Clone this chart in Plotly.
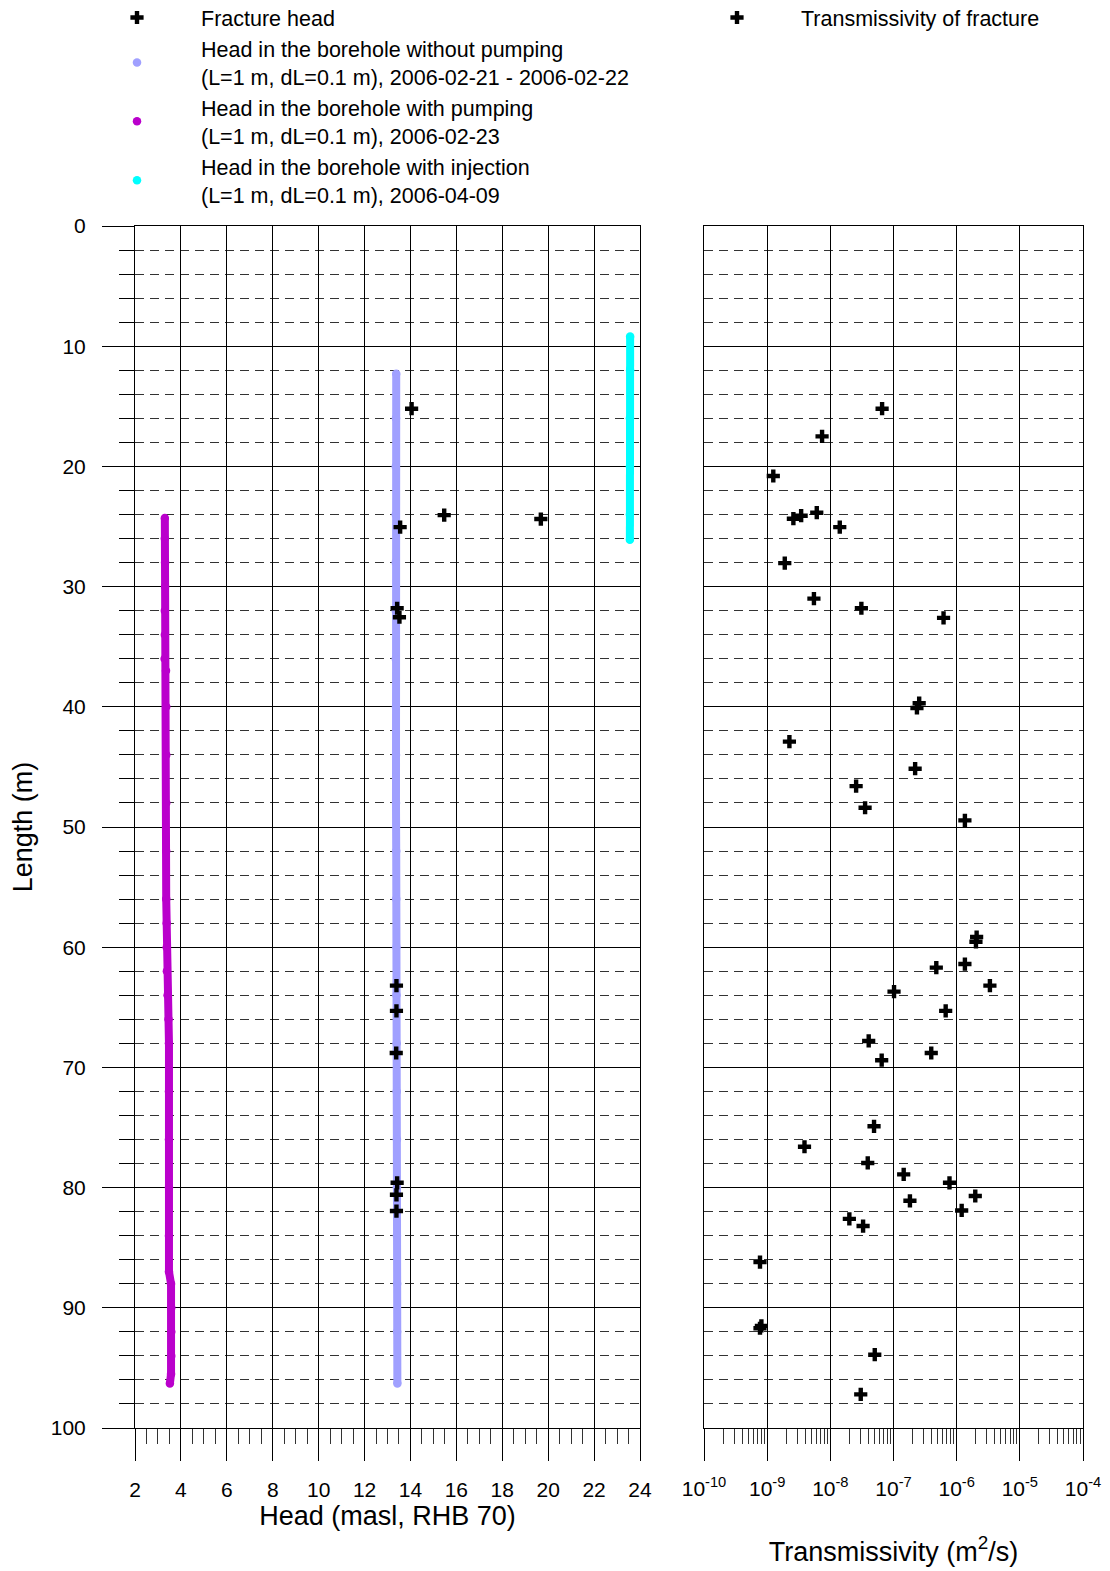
import plotly.graph_objects as go

# ---------------- data ----------------
# Head in the borehole without pumping (lavender)
nopump_depth = [12.3, 16, 20, 24, 28, 32, 36, 40, 44, 48, 52, 56, 60, 64, 68, 72, 76, 80, 84, 88, 92, 96.3]
nopump_head = [13.38, 13.37, 13.36, 13.36, 13.36, 13.36, 13.36, 13.37, 13.37, 13.37, 13.38, 13.38,
               13.39, 13.39, 13.40, 13.40, 13.41, 13.41, 13.41, 13.42, 13.42, 13.43]

# Head in the borehole with pumping (purple)
pump_depth = [24.3, 26, 28, 30, 32, 34, 36, 37, 40, 44, 48, 52, 56, 58, 60, 62, 64, 66, 68, 72, 76, 80,
              84, 87, 88, 90, 92, 94, 95.5, 96.3]
pump_head = [3.30, 3.30, 3.31, 3.31, 3.30, 3.30, 3.29, 3.35, 3.36, 3.36, 3.36, 3.36, 3.36, 3.38, 3.38,
             3.39, 3.42, 3.46, 3.48, 3.48, 3.48, 3.48, 3.48, 3.48, 3.57, 3.58, 3.58, 3.58, 3.57, 3.52]

# Head in the borehole with injection (cyan)
inj_depth = [9.2, 12, 16, 20, 24, 26.1]
inj_head = [23.57, 23.57, 23.56, 23.56, 23.56, 23.56]

# Fracture head
frac_depth = [15.2, 24.05, 24.38, 25.05, 31.8, 32.55, 63.2, 65.3, 68.8, 79.6, 80.6, 81.95]
frac_head = [14.05, 15.47, 19.68, 13.55, 13.42, 13.52, 13.39, 13.39, 13.38, 13.42, 13.39, 13.39]

# Transmissivity of fracture
trans_depth = [15.2, 17.5, 20.8, 23.85, 24.1, 24.35, 25.05, 28.05, 31.0, 31.8, 32.6, 39.7, 40.1, 42.9,
               45.15, 46.6, 48.4, 49.45, 59.15, 59.55, 61.4, 61.7, 63.2, 63.7, 65.3, 67.8, 68.8, 69.4,
               74.9, 76.6, 77.95, 78.9, 79.6, 80.7, 81.1, 81.9, 82.6, 83.2, 86.2, 91.5, 91.7, 93.9, 97.2]
trans_T = [6.6e-8, 7.4e-9, 1.25e-9, 6.1e-9, 3.45e-9, 2.6e-9, 1.41e-8, 1.9e-9, 5.5e-9, 3.1e-8, 6.2e-7,
           2.55e-7, 2.35e-7, 2.25e-9, 2.2e-7, 2.56e-8, 3.55e-8, 1.35e-6, 2.07e-6, 2.02e-6, 1.35e-6,
           4.76e-7, 3.36e-6, 1.02e-7, 6.7e-7, 4.05e-8, 3.96e-7, 6.5e-8, 4.92e-8, 3.9e-9, 3.91e-8,
           1.45e-7, 7.7e-7, 1.97e-6, 1.82e-7, 1.2e-6, 2.0e-8, 3.3e-8, 7.7e-10, 8.1e-10, 7.7e-10,
           5.05e-8, 3.03e-8]

head_ticks = [2, 4, 6, 8, 10, 12, 14, 16, 18, 20, 22, 24]
trans_tickvals = [1e-10, 1e-9, 1e-8, 1e-7, 1e-6, 1e-5, 1e-4]
trans_ticktext = ["10<sup>-10</sup>", "10<sup>-9</sup>", "10<sup>-8</sup>", "10<sup>-7</sup>",
                  "10<sup>-6</sup>", "10<sup>-5</sup>", "10<sup>-4</sup>"]

C_NOPUMP = "#A0A0FF"
C_PUMP = "#BA00CC"
C_INJ = "#00FFFF"
FONT = "Liberation Sans, Arial, sans-serif"

# page body has an 8px default margin: figure is drawn 8px smaller and coordinates shifted
OFF = 8
W, H = 1110 - OFF, 1571 - OFF


def px_x(px):
    return (px - OFF) / W


def px_y(py):
    return 1 - (py - OFF) / H


fig = go.Figure()

# continuous profiles (lines)
for d, h, c in [(nopump_depth, nopump_head, C_NOPUMP), (pump_depth, pump_head, C_PUMP),
                (inj_depth, inj_head, C_INJ)]:
    fig.add_trace(go.Scatter(x=h, y=d, mode="lines", line=dict(color=c, width=8),
                             showlegend=False, hoverinfo="skip", xaxis="x", yaxis="y"))

# marker overlays (round joints) carrying the legend entries
names = [
    "Head in the borehole without pumping<br>(L=1 m, dL=0.1 m), 2006-02-21 - 2006-02-22",
    "Head in the borehole with pumping<br>(L=1 m, dL=0.1 m), 2006-02-23",
    "Head in the borehole with injection<br>(L=1 m, dL=0.1 m), 2006-04-09",
]
for i, (d, h, c) in enumerate([(nopump_depth, nopump_head, C_NOPUMP), (pump_depth, pump_head, C_PUMP),
                               (inj_depth, inj_head, C_INJ)]):
    fig.add_trace(go.Scatter(x=h, y=d, mode="markers", name=names[i],
                             marker=dict(color=c, size=8.5, line=dict(width=0)),
                             legend="legend", legendrank=2 + i, xaxis="x", yaxis="y"))

fig.add_trace(go.Scatter(x=frac_head, y=frac_depth, mode="markers", name="Fracture head",
                         marker=dict(symbol="cross", size=11, color="black", line=dict(width=0)),
                         legend="legend", legendrank=1, xaxis="x", yaxis="y"))

fig.add_trace(go.Scatter(x=trans_T, y=trans_depth, mode="markers", name="Transmissivity of fracture",
                         marker=dict(symbol="cross", size=11, color="black", line=dict(width=0)),
                         legend="legend2", xaxis="x2", yaxis="y2"))

ydom = [px_y(1428), px_y(226)]
tickfont = dict(family=FONT, size=21, color="black")
titlefont = dict(family=FONT, size=27, color="black")
DASH = "9px,6px"

fig.update_layout(
    width=W, height=H, autosize=False,
    margin=dict(l=0, r=0, t=0, b=0, pad=0, autoexpand=False),
    paper_bgcolor="white", plot_bgcolor="white",
    font=dict(family=FONT, size=21, color="black"),
    xaxis=dict(
        domain=[px_x(135), px_x(640)], range=[2, 24], anchor="y", automargin=False,
        tickmode="array", tickvals=head_ticks,
        ticks="outside", ticklen=32, tickwidth=1, tickcolor="black",
        showgrid=True, gridcolor="black", gridwidth=1,
        showline=True, linecolor="black", linewidth=1, mirror=True, zeroline=False,
        tickfont=tickfont, ticklabelstandoff=11,
        minor=dict(dtick=0.5, tick0=2, ticks="outside", ticklen=15, tickwidth=1,
                   tickcolor="#333", showgrid=False),
        title=dict(text="Head (masl, RHB 70)", font=titlefont, standoff=1),
    ),
    yaxis=dict(
        domain=ydom, range=[100, 0], anchor="x", automargin=False,
        tick0=0, dtick=10,
        ticks="outside", ticklen=32, tickwidth=1, tickcolor="black",
        showgrid=True, gridcolor="black", gridwidth=1,
        showline=True, linecolor="black", linewidth=1, mirror=True, zeroline=False,
        tickfont=tickfont, ticklabelstandoff=12,
        minor=dict(dtick=2, tick0=0, ticks="outside", ticklen=15, tickwidth=1, tickcolor="black",
                   showgrid=True, gridcolor="#333", griddash=DASH, gridwidth=1),
        title=dict(text="Length (m)", font=titlefont, standoff=10),
    ),
    xaxis2=dict(
        domain=[px_x(704), px_x(1083)], type="log", range=[-10, -4], anchor="y2", automargin=False,
        tickmode="array", tickvals=trans_tickvals, ticktext=trans_ticktext,
        ticks="outside", ticklen=32, tickwidth=1, tickcolor="black",
        showgrid=True, gridcolor="black", gridwidth=1,
        showline=True, linecolor="black", linewidth=1, mirror=True, zeroline=False,
        tickfont=tickfont, ticklabelstandoff=10,
        minor=dict(dtick="D1", ticks="outside", ticklen=15, tickwidth=1, tickcolor="#333",
                   showgrid=False),
        title=dict(text="Transmissivity (m<sup>2</sup>/s)", font=titlefont, standoff=42),
    ),
    yaxis2=dict(
        domain=ydom, range=[100, 0], anchor="x2", automargin=False,
        tick0=0, dtick=10, ticks="", showticklabels=False,
        showgrid=True, gridcolor="black", gridwidth=1,
        showline=True, linecolor="black", linewidth=1, mirror=True, zeroline=False,
        minor=dict(dtick=2, tick0=0, ticks="", showgrid=True, gridcolor="#333",
                   griddash=DASH, gridwidth=1),
    ),
    legend=dict(x=px_x(73), y=1 + 11 / H, xanchor="left", yanchor="top", bgcolor="rgba(0,0,0,0)",
                font=dict(family=FONT, size=21.5, color="black"), itemwidth=118,
                tracegroupgap=0, valign="middle", traceorder="normal"),
    legend2=dict(x=px_x(673), y=1 + 11 / H, xanchor="left", yanchor="top", bgcolor="rgba(0,0,0,0)",
                 font=dict(family=FONT, size=21.5, color="black"), itemwidth=118,
                 valign="middle"),
)

fig.write_html("out.html")
